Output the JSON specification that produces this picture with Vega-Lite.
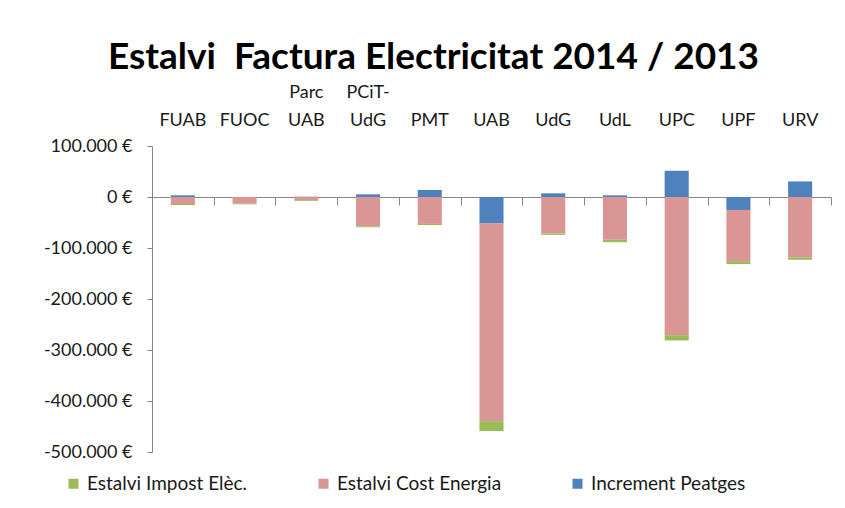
{
  "$schema": "https://vega.github.io/schema/vega-lite/v6.json",
  "width": 679,
  "height": 306,
  "autosize": "none",
  "padding": {"left": 152, "top": 146, "right": 14, "bottom": 56},
  "background": "white",
  "title": {
    "text": "Estalvi \u00a0Factura Electricitat 2014 / 2013",
    "font": "Lato",
    "fontSize": 37,
    "fontWeight": "bold",
    "color": "#000000",
    "anchor": "middle",
    "frame": "group",
    "dx": -58,
    "offset": 6
  },
  "config": {"view": {"stroke": null}},
  "data": {
    "values": [
      {"u": "FUAB", "s": "Increment Peatges", "v": 3300},
      {"u": "FUAB", "s": "Estalvi Cost Energia", "v": -13700},
      {"u": "FUAB", "s": "Estalvi Impost Elèc.", "v": -2000},
      {"u": "FUOC", "s": "Increment Peatges", "v": 0},
      {"u": "FUOC", "s": "Estalvi Cost Energia", "v": -13000},
      {"u": "FUOC", "s": "Estalvi Impost Elèc.", "v": -1300},
      {"u": "Parc UAB", "s": "Increment Peatges", "v": 600},
      {"u": "Parc UAB", "s": "Estalvi Cost Energia", "v": -5900},
      {"u": "Parc UAB", "s": "Estalvi Impost Elèc.", "v": -1600},
      {"u": "PCiT-UdG", "s": "Increment Peatges", "v": 5200},
      {"u": "PCiT-UdG", "s": "Estalvi Cost Energia", "v": -57300},
      {"u": "PCiT-UdG", "s": "Estalvi Impost Elèc.", "v": -2000},
      {"u": "PMT", "s": "Increment Peatges", "v": 13700},
      {"u": "PMT", "s": "Estalvi Cost Energia", "v": -52700},
      {"u": "PMT", "s": "Estalvi Impost Elèc.", "v": -2300},
      {"u": "UAB", "s": "Increment Peatges", "v": -52000},
      {"u": "UAB", "s": "Estalvi Cost Energia", "v": -387500},
      {"u": "UAB", "s": "Estalvi Impost Elèc.", "v": -19500},
      {"u": "UdG", "s": "Increment Peatges", "v": 7200},
      {"u": "UdG", "s": "Estalvi Cost Energia", "v": -71600},
      {"u": "UdG", "s": "Estalvi Impost Elèc.", "v": -2600},
      {"u": "UdL", "s": "Increment Peatges", "v": 3300},
      {"u": "UdL", "s": "Estalvi Cost Energia", "v": -84000},
      {"u": "UdL", "s": "Estalvi Impost Elèc.", "v": -4600},
      {"u": "UPC", "s": "Increment Peatges", "v": 51400},
      {"u": "UPC", "s": "Estalvi Cost Energia", "v": -270900},
      {"u": "UPC", "s": "Estalvi Impost Elèc.", "v": -10400},
      {"u": "UPF", "s": "Increment Peatges", "v": -25400},
      {"u": "UPF", "s": "Estalvi Cost Energia", "v": -100300},
      {"u": "UPF", "s": "Estalvi Impost Elèc.", "v": -5900},
      {"u": "URV", "s": "Increment Peatges", "v": 30600},
      {"u": "URV", "s": "Estalvi Cost Energia", "v": -118500},
      {"u": "URV", "s": "Estalvi Impost Elèc.", "v": -4600}
    ]
  },
  "resolve": {"axis": {"x": "independent"}},
  "layer": [
    {
      "mark": {"type": "bar", "width": {"band": 0.39}},
      "encoding": {
        "x": {
          "field": "u",
          "type": "nominal",
          "sort": null,
          "scale": {"paddingInner": 0, "paddingOuter": 0},
          "axis": {
            "orient": "top",
            "title": null,
            "domain": false,
            "ticks": false,
            "tickSize": 0,
            "labelAngle": 0,
            "labelFont": "Lato",
            "labelFontSize": 18,
            "labelColor": "#1a1a1a",
            "labelPadding": 45,
            "labelLineHeight": 28,
            "labelExpr": "datum.value == 'Parc UAB' ? ['Parc', 'UAB'] : datum.value == 'PCiT-UdG' ? ['PCiT-', 'UdG'] : ['', datum.label]"
          }
        },
        "y": {
          "field": "v",
          "type": "quantitative",
          "stack": "zero",
          "scale": {"domain": [-500000, 100000], "nice": false},
          "axis": {
            "title": null,
            "grid": false,
            "values": [100000, 0, -100000, -200000, -300000, -400000, -500000],
            "tickSize": 5,
            "tickColor": "#868686",
            "domainColor": "#868686",
            "labelFont": "Lato",
            "labelFontSize": 18,
            "labelColor": "#1a1a1a",
            "labelPadding": 15,
            "labelExpr": "(datum.value < 0 ? '-' : '') + replace(format(abs(datum.value), ','), ',', '.') + ' €'"
          }
        },
        "color": {
          "field": "s",
          "type": "nominal",
          "scale": {
            "domain": ["Increment Peatges", "Estalvi Cost Energia", "Estalvi Impost Elèc."],
            "range": ["#4F81BD", "#D99694", "#9BBB59"]
          },
          "legend": {
            "values": ["Estalvi Impost Elèc.", "Estalvi Cost Energia", "Increment Peatges"],
            "title": null,
            "orient": "none",
            "direction": "horizontal",
            "legendX": -88,
            "legendY": 328,
            "padding": 0,
            "symbolType": "square",
            "symbolSize": 100,
            "symbolStrokeWidth": 0,
            "labelFont": "Lato",
            "labelFontSize": 19,
            "labelColor": "#1a1a1a",
            "labelOffset": 4,
            "columnPadding": 66,
            "labelLimit": 300
          }
        },
        "order": {"field": "u"}
      }
    },
    {
      "mark": {"type": "point", "opacity": 0},
      "encoding": {
        "x": {
          "field": "u",
          "type": "nominal",
          "sort": null,
          "axis": {
            "orient": "bottom",
            "title": null,
            "labels": false,
            "offset": -255,
            "tickBand": "extent",
            "tickSize": 8,
            "tickColor": "#868686",
            "domainColor": "#868686"
          }
        },
        "y": {"datum": 0}
      }
    }
  ]
}
